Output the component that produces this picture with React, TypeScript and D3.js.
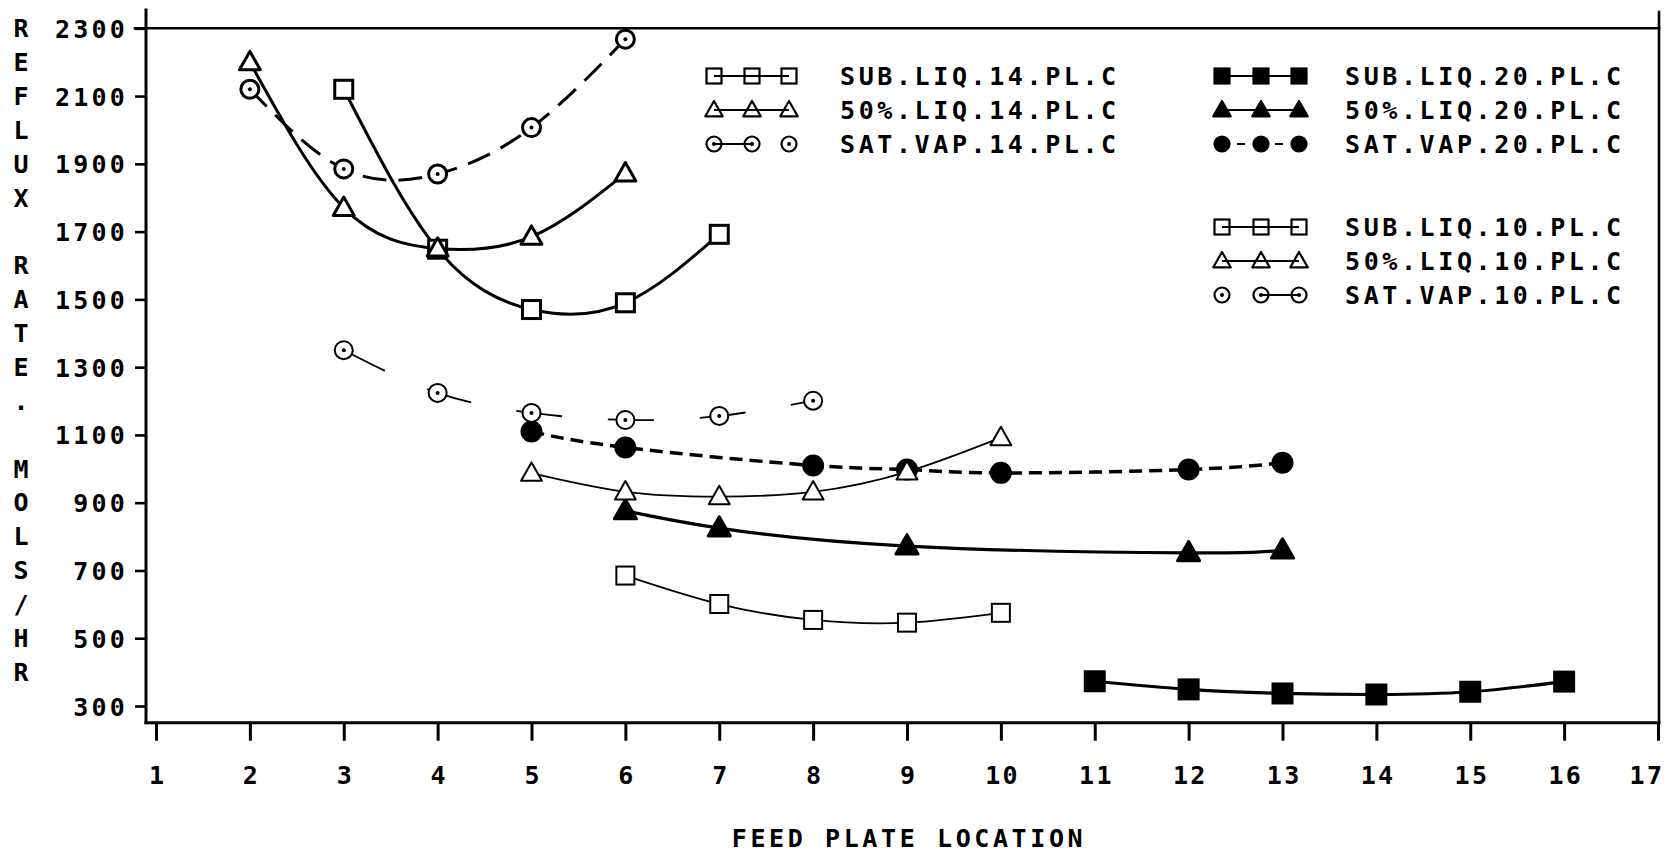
import React, { useEffect, useRef } from "react";
import * as d3 from "d3";

// tick values and titles
const xTickValues = [1, 2, 3, 4, 5, 6, 7, 8, 9, 10, 11, 12, 13, 14, 15, 16, 17];
const yTickValues = [300, 500, 700, 900, 1100, 1300, 1500, 1700, 1900, 2100, 2300];
const xTitle = "FEED PLATE LOCATION";
const yTitle = "REFLUX RATE. MOLS/HR";

// 14 plate column
const sub14X = [3, 4, 5, 6, 7];
const sub14Y = [2120, 1648, 1470, 1490, 1692];
const liq14X = [2, 3, 4, 5, 6];
const liq14Y = [2200, 1770, 1650, 1685, 1872];
const vap14X = [2, 3, 4, 5, 6];
const vap14Y = [2120, 1885, 1870, 2007, 2268];

// 20 plate column
const sub20X = [11, 12, 13, 14, 15, 16];
const sub20Y = [373, 349, 337, 334, 342, 372];
const liq20X = [6, 7, 9, 12, 13];
const liq20Y = [876, 825, 772, 752, 760];
const vap20X = [5, 6, 8, 9, 10, 12, 13];
const vap20Y = [1110, 1063, 1010, 998, 988, 998, 1018];

// 10 plate column
const sub10X = [6, 7, 8, 9, 10];
const sub10Y = [685, 601, 554, 546, 575];
const liq10X = [5, 6, 7, 8, 9, 10];
const liq10Y = [987, 932, 918, 932, 991, 1092];
const vap10X = [3, 4, 5, 6, 7, 8];
const vap10Y = [1350, 1224, 1165, 1144, 1156, 1201];

const labels14 = ["SUB.LIQ.14.PL.C", "50%.LIQ.14.PL.C", "SAT.VAP.14.PL.C"];
const labels20 = ["SUB.LIQ.20.PL.C", "50%.LIQ.20.PL.C", "SAT.VAP.20.PL.C"];
const labels10 = ["SUB.LIQ.10.PL.C", "50%.LIQ.10.PL.C", "SAT.VAP.10.PL.C"];

type Series = {
  xs: number[];
  ys: number[];
  label: string;
  marker: "square" | "triangle" | "circle";
  filled: boolean;
  dot?: boolean;
  width: number;
  dash?: string;
  legendDash?: string;
  col: number;
  row: number;
};

const series: Series[] = [
  { xs: sub14X, ys: sub14Y, label: labels14[0], marker: "square", filled: false, width: 3, col: 0, row: 0 },
  { xs: liq14X, ys: liq14Y, label: labels14[1], marker: "triangle", filled: false, width: 3, col: 0, row: 1 },
  { xs: vap14X, ys: vap14Y, label: labels14[2], marker: "circle", filled: false, dot: true, width: 3, dash: "24 12", legendDash: "38 200", col: 0, row: 2 },
  { xs: sub20X, ys: sub20Y, label: labels20[0], marker: "square", filled: true, width: 3.2, col: 1, row: 0 },
  { xs: liq20X, ys: liq20Y, label: labels20[1], marker: "triangle", filled: true, width: 3.2, col: 1, row: 1 },
  { xs: vap20X, ys: vap20Y, label: labels20[2], marker: "circle", filled: true, width: 3.5, dash: "13 7", legendDash: "0 15 8 15", col: 1, row: 2 },
  { xs: sub10X, ys: sub10Y, label: labels10[0], marker: "square", filled: false, width: 1.8, col: 1, row: 3 },
  { xs: liq10X, ys: liq10Y, label: labels10[1], marker: "triangle", filled: false, width: 1.8, col: 1, row: 4 },
  { xs: vap10X, ys: vap10Y, label: labels10[2], marker: "circle", filled: false, dot: true, width: 1.8, dash: "46 46", legendDash: "0 38 38 200", col: 1, row: 5 },
];

const W = 1667;
const H = 855;
const LEFT = 146;
const BOTTOM = 722.7;
const RIGHT = 1659;
const TOP = 28.3;
const FONT = "'DejaVu Sans Mono', monospace";

function drawMarker(g: any, s: Series, cx: number, cy: number, size: number, sw: number, bg: string) {
  const fill = s.filled ? "#000" : bg;
  if (s.marker === "square") {
    g.append("rect")
      .attr("x", cx - size / 2)
      .attr("y", cy - size / 2)
      .attr("width", size)
      .attr("height", size)
      .attr("fill", fill)
      .attr("stroke", "#000")
      .attr("stroke-width", sw);
  } else if (s.marker === "triangle") {
    const h = size * 1.0;
    const w = size * 0.58;
    g.append("path")
      .attr("d", `M${cx},${cy - h * 0.6}L${cx + w},${cy + h * 0.42}L${cx - w},${cy + h * 0.42}Z`)
      .attr("fill", fill)
      .attr("stroke", "#000")
      .attr("stroke-width", sw)
      .attr("stroke-linejoin", "round");
  } else {
    g.append("circle")
      .attr("cx", cx)
      .attr("cy", cy)
      .attr("r", size / 2)
      .attr("fill", fill)
      .attr("stroke", "#000")
      .attr("stroke-width", sw);
    if (s.dot) {
      g.append("circle").attr("cx", cx).attr("cy", cy).attr("r", 2).attr("fill", "#000");
    }
  }
}

function Chart() {
  const svgRef = useRef<SVGSVGElement>(null);

  useEffect(() => {
    const svg = d3.select(svgRef.current);
    svg.selectAll("*").remove();

    const x = d3.scaleLinear().domain([1, 17]).range([156, 1658]);
    const y = d3.scaleLinear().domain([300, 2300]).range([706, TOP]);

    // frame
    const frame = svg.append("g").attr("stroke", "#000").attr("stroke-linecap", "square");
    frame.append("line").attr("x1", 135).attr("x2", RIGHT).attr("y1", TOP).attr("y2", TOP).attr("stroke-width", 2.6);
    frame.append("line").attr("x1", LEFT).attr("x2", LEFT).attr("y1", 10).attr("y2", BOTTOM).attr("stroke-width", 3);
    frame.append("line").attr("x1", RIGHT).attr("x2", RIGHT).attr("y1", 12).attr("y2", BOTTOM).attr("stroke-width", 2.6);
    frame.append("line").attr("x1", LEFT).attr("x2", RIGHT).attr("y1", BOTTOM).attr("y2", BOTTOM).attr("stroke-width", 3);

    // axes
    const xAxis = d3.axisBottom(x).tickValues(xTickValues).tickSize(18).tickFormat(d3.format("d"));
    const gx = svg.append("g").attr("transform", `translate(0,${BOTTOM})`).call(xAxis as any);
    gx.select(".domain").remove();
    gx.selectAll("line").attr("stroke", "#000").attr("stroke-width", 3);
    gx.selectAll("text")
      .attr("y", 61)
      .attr("dy", 0)
      .attr("dx", 1.2)
      .attr("fill", "#000")
      .style("font-family", FONT)
      .style("font-weight", "bold")
      .style("font-size", "25px")
      .style("letter-spacing", "2.4px");
    // last label sits at the page edge, as in the original
    gx.selectAll("text")
      .filter((d: any) => d === xTickValues[xTickValues.length - 1])
      .attr("text-anchor", "end")
      .attr("dx", 0)
      .attr("x", 6);

    const yAxis = d3.axisLeft(y).tickValues(yTickValues).tickSize(11).tickFormat(d3.format("d"));
    const gy = svg.append("g").attr("transform", `translate(${LEFT},0)`).call(yAxis as any);
    gy.select(".domain").remove();
    gy.selectAll("line").attr("stroke", "#000").attr("stroke-width", 2.6);
    gy.selectAll("text")
      .attr("x", -18)
      .attr("dy", "0.36em")
      .attr("fill", "#000")
      .style("font-family", FONT)
      .style("font-weight", "bold")
      .style("font-size", "25px")
      .style("letter-spacing", "3.2px");

    // titles
    svg.append("text")
      .attr("x", 909)
      .attr("y", 847)
      .attr("text-anchor", "middle")
      .style("font-family", FONT)
      .style("font-weight", "bold")
      .style("font-size", "25px")
      .style("letter-spacing", "3.6px")
      .text(xTitle);

    svg.append("g")
      .selectAll("text")
      .data(yTitle.split(""))
      .join("text")
      .attr("x", 21)
      .attr("y", (d, i) => TOP + 9 + i * 33.87)
      .attr("text-anchor", "middle")
      .style("font-family", FONT)
      .style("font-weight", "bold")
      .style("font-size", "25px")
      .text((d) => d);

    // curves
    const curve = d3
      .line<[number, number]>()
      .x((d) => x(d[0]))
      .y((d) => y(d[1]))
      .curve(d3.curveNatural);

    series.forEach((s) => {
      const pts = s.xs.map((v, i) => [v, s.ys[i]] as [number, number]);
      svg.append("path")
        .attr("d", curve(pts))
        .attr("fill", "none")
        .attr("stroke", "#000")
        .attr("stroke-width", s.width)
        .attr("stroke-dasharray", s.dash || null);
    });

    series.forEach((s) => {
      const g = svg.append("g");
      const size = s.filled ? 19 : 18;
      const sw = s.width > 2 ? 3 : 2;
      s.xs.forEach((v, i) => drawMarker(g, s, x(v), y(s.ys[i]), size, sw, "#fff"));
    });

    // legend
    const colMarkers = [
      [714, 752, 789],
      [1222, 1261, 1299],
    ];
    const colText = [840, 1345];
    const rowY = [76, 110, 144, 227, 261, 295];

    series.forEach((s) => {
      const g = svg.append("g");
      const ms = colMarkers[s.col];
      const ry = rowY[s.row];
      g.append("line")
        .attr("x1", ms[0])
        .attr("x2", ms[2])
        .attr("y1", ry)
        .attr("y2", ry)
        .attr("stroke", "#000")
        .attr("stroke-width", 2)
        .attr("stroke-dasharray", s.legendDash || null);
      ms.forEach((mx) => drawMarker(g, s, mx, ry, 15, 2.2, "none"));
      g.append("text")
        .attr("x", colText[s.col])
        .attr("y", ry + 9)
        .style("font-family", FONT)
        .style("font-weight", "bold")
        .style("font-size", "25px")
        .style("letter-spacing", "3.6px")
        .text(s.label);
    });
  }, []);

  return <svg ref={svgRef} width={W} height={H} style={{ display: "block", background: "#fff" }} />;
}

export default function App() {
  return (
    <div style={{ position: "absolute", left: 0, top: 0 }}>
      <Chart />
    </div>
  );
}
